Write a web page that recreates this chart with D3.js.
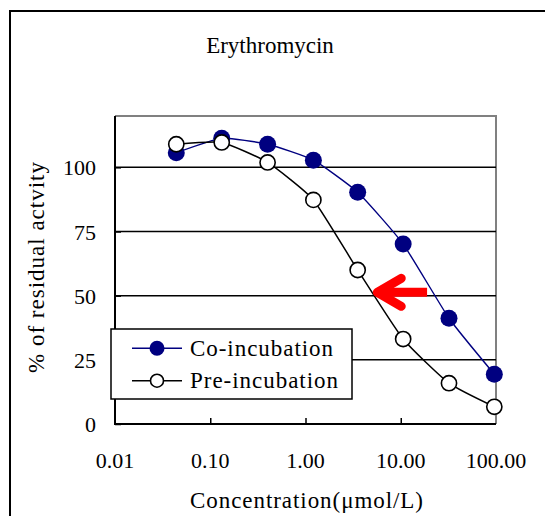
<!DOCTYPE html>
<html>
<head>
<meta charset="utf-8">
<script src="https://cdn.jsdelivr.net/npm/d3@7"></script>
<style>
  html, body { margin: 0; padding: 0; background: #fff; }
  svg { display: block; }
</style>
</head>
<body>
<div id="chart"></div>
<script>
// ---- data ----
const concentrations = [0.044, 0.132, 0.40, 1.21, 3.53, 10.6, 32.1, 96];
const coIncubation   = [105.7, 111.3, 109.0, 102.8, 90.3, 70.1, 41.2, 19.4];
const preIncubation  = [109.0, 109.7, 101.9, 87.3, 60.0, 33.1, 15.9, 6.7];
const seriesNames    = ["Co-incubation", "Pre-incubation"];
const xTickValues    = [0.01, 0.1, 1, 10, 100];
const xTickLabels    = ["0.01", "0.10", "1.00", "10.00", "100.00"];
const yTickValues    = [0, 25, 50, 75, 100];
const yTickLabels    = ["0", "25", "50", "75", "100"];
const arrowTip       = [5.4, 51.3];   // data coords (conc, %)
const arrowTailX     = 18.9;

// ---- layout ----
const W = 545, H = 516;
const plot = { left: 115, right: 496, top: 116, bottom: 424 };
const FONT = "'Liberation Serif', 'Times New Roman', 'DejaVu Serif', serif";

const svg = d3.select("#chart").append("svg").attr("width", W).attr("height", H)
  .attr("font-family", FONT).style("font-family", FONT);

// outer frame
svg.append("rect").attr("x", 10).attr("y", 11).attr("width", W + 20).attr("height", H + 20)
  .attr("fill", "#fff").attr("stroke", "#000").attr("stroke-width", 2);

const x = d3.scaleLog().domain([0.01, 100]).range([plot.left, plot.right]);
const y = d3.scaleLinear().domain([0, 120]).range([plot.bottom, plot.top]);

function txt(sel) { return sel.attr("font-family", FONT).style("font-family", FONT).attr("fill", "#000"); }

// title
txt(svg.append("text")).attr("x", 270).attr("y", 53).attr("text-anchor", "middle")
  .attr("font-size", 23).text("Erythromycin");

// plot border (gray top/right)
svg.append("path")
  .attr("d", `M${plot.left},${plot.top}H${plot.right}V${plot.bottom}`)
  .attr("fill", "none").attr("stroke", "#808080").attr("stroke-width", 2);

// gridlines
svg.append("g").selectAll("line").data(yTickValues.filter(v => v > 0)).join("line")
  .attr("x1", plot.left).attr("x2", plot.right)
  .attr("y1", d => y(d)).attr("y2", d => y(d))
  .attr("stroke", "#000").attr("stroke-width", 1.5);

// y axis
const yAxis = d3.axisRight(y).tickValues(yTickValues).tickSize(6).tickFormat("");
const gy = svg.append("g").attr("transform", `translate(${plot.left},0)`).call(yAxis);
gy.select(".domain").remove();
gy.selectAll(".tick line").attr("stroke", "#000").attr("stroke-width", 1.5);
svg.append("line").attr("x1", plot.left).attr("x2", plot.left)
  .attr("y1", plot.top).attr("y2", plot.bottom + 1).attr("stroke", "#000").attr("stroke-width", 2);

txt(svg.append("g").selectAll("text").data(yTickValues).join("text"))
  .attr("x", 96).attr("y", d => y(d) + 8)
  .attr("text-anchor", "end").attr("font-size", 22)
  .text((d, i) => yTickLabels[i]);

// x axis
const xAxis = d3.axisTop(x).tickValues(xTickValues.slice(1, -1)).tickSize(6).tickFormat("");
const gx = svg.append("g").attr("transform", `translate(0,${plot.bottom})`).call(xAxis);
gx.select(".domain").remove();
gx.selectAll(".tick line").attr("stroke", "#000").attr("stroke-width", 1.5);
svg.append("line").attr("x1", plot.left - 1).attr("x2", plot.right)
  .attr("y1", plot.bottom).attr("y2", plot.bottom).attr("stroke", "#000").attr("stroke-width", 2);

txt(svg.append("g").selectAll("text").data(xTickValues).join("text"))
  .attr("x", d => x(d)).attr("y", 468)
  .attr("text-anchor", "middle").attr("font-size", 22)
  .text((d, i) => xTickLabels[i]);

// axis titles
txt(svg.append("text")).attr("x", 190).attr("y", 508).attr("font-size", 23)
  .attr("textLength", 233).attr("lengthAdjust", "spacing")
  .text("Concentration(\u03bcmol/L)");
txt(svg.append("text")).attr("transform", "translate(44,267.5) rotate(-90)")
  .attr("text-anchor", "middle").attr("font-size", 23)
  .attr("textLength", 211).attr("lengthAdjust", "spacing")
  .text("% of residual actvity");

// series
const curve = d3.curveCardinal.tension(0.5);
const line = d3.line().x(d => x(d[0])).y(d => y(d[1])).curve(curve);
const coData = concentrations.map((c, i) => [c, coIncubation[i]]);
const preData = concentrations.map((c, i) => [c, preIncubation[i]]);

svg.append("path").datum(coData).attr("d", line)
  .attr("fill", "none").attr("stroke", "#000080").attr("stroke-width", 1.4);
svg.append("g").selectAll("circle").data(coData).join("circle")
  .attr("cx", d => x(d[0])).attr("cy", d => y(d[1])).attr("r", 8.5)
  .attr("fill", "#000080");

svg.append("path").datum(preData).attr("d", line)
  .attr("fill", "none").attr("stroke", "#000").attr("stroke-width", 1.5);
svg.append("g").selectAll("circle").data(preData).join("circle")
  .attr("cx", d => x(d[0])).attr("cy", d => y(d[1])).attr("r", 7.6)
  .attr("fill", "#fff").attr("stroke", "#000").attr("stroke-width", 1.6);

// red arrow annotation
const tx = x(arrowTip[0]), ty = y(arrowTip[1]), ex = x(arrowTailX);
const arrow = svg.append("g").attr("stroke", "#ff0000").attr("fill", "none");
arrow.append("line").attr("x1", tx + 2).attr("y1", ty).attr("x2", ex).attr("y2", ty)
  .attr("stroke-width", 9).attr("stroke-linecap", "butt");
arrow.append("path")
  .attr("d", `M${tx + 26},${ty - 14}L${tx + 2},${ty}L${tx + 26},${ty + 14}`)
  .attr("stroke-width", 9).attr("stroke-linecap", "round").attr("stroke-linejoin", "round");

// legend
const lg = svg.append("g");
lg.append("rect").attr("x", 111).attr("y", 329).attr("width", 241).attr("height", 70)
  .attr("fill", "#fff").attr("stroke", "#000").attr("stroke-width", 1.5);
const legendRows = [
  { name: seriesNames[0], y: 348.3, stroke: "#000080", fill: "#000080", sw: 0 },
  { name: seriesNames[1], y: 380.7, stroke: "#000", fill: "#fff", sw: 1.6 }
];
legendRows.forEach(r => {
  lg.append("line").attr("x1", 132).attr("x2", 182).attr("y1", r.y).attr("y2", r.y)
    .attr("stroke", r.stroke).attr("stroke-width", 1.5);
  lg.append("circle").attr("cx", 157).attr("cy", r.y).attr("r", r.sw ? 6.5 : 7.5)
    .attr("fill", r.fill).attr("stroke", r.sw ? r.stroke : "none").attr("stroke-width", r.sw);
  txt(lg.append("text")).attr("x", 190).attr("y", r.y + 7.5).attr("font-size", 23)
    .attr("textLength", r.sw ? 148 : 143).attr("lengthAdjust", "spacing")
    .text(r.name);
});
</script>
</body>
</html>
